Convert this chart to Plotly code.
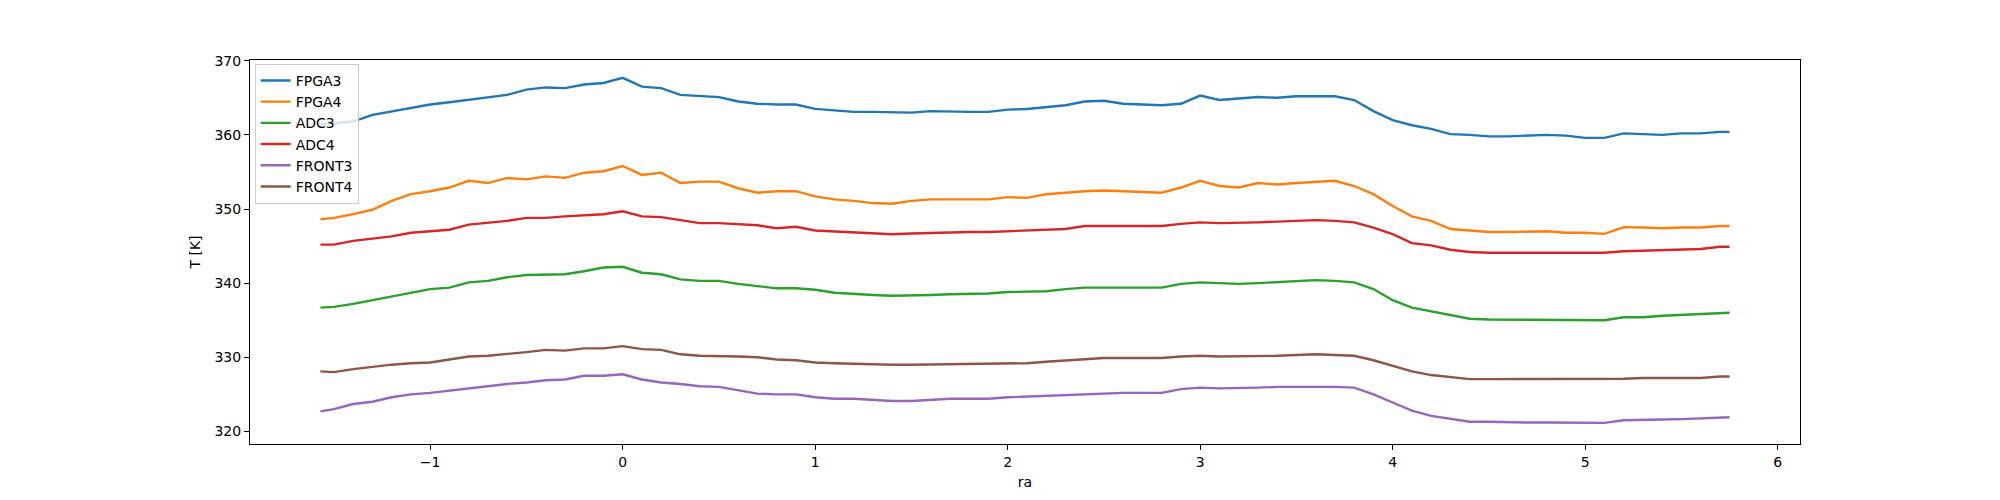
import plotly.graph_objects as go

ra = [-1.57, -1.5, -1.4, -1.3, -1.2, -1.1, -1.0, -0.9, -0.8, -0.7, -0.6, -0.5, -0.4, -0.3, -0.2, -0.1, 0.0, 0.1, 0.2,
      0.3, 0.4, 0.5, 0.6, 0.7, 0.8, 0.9, 1.0, 1.1, 1.2, 1.3, 1.4, 1.5, 1.6, 1.7, 1.8, 1.9, 2.0, 2.1, 2.2, 2.3,
      2.4, 2.5, 2.6, 2.7, 2.8, 2.9, 3.0, 3.1, 3.2, 3.3, 3.4, 3.5, 3.6, 3.7, 3.8, 3.9, 4.0, 4.1, 4.2, 4.3,
      4.4, 4.5, 4.6, 4.7, 4.8, 4.9, 5.0, 5.1, 5.2, 5.3, 5.4, 5.5, 5.6, 5.7, 5.75]

fpga3 = [361.4, 361.6, 361.8, 362.7, 363.2, 363.6, 364.1, 364.4, 364.7, 365.0, 365.4, 366.1, 366.4, 366.3, 366.8, 367.0, 367.7, 366.5, 366.3,
         365.4, 365.2, 365.1, 364.5, 364.2, 364.1, 364.1, 363.5, 363.3, 363.1, 363.1, 363.0, 363.0, 363.2, 363.1, 363.1, 363.1, 363.4, 363.5, 363.7, 364.0,
         364.5, 364.6, 364.2, 364.1, 364.0, 364.2, 365.3, 364.7, 364.9, 365.1, 365.0, 365.2, 365.2, 365.2, 364.7, 363.2, 362.0, 361.3, 360.8, 360.1,
         360.0, 359.8, 359.8, 359.9, 360.0, 359.9, 359.6, 359.6, 360.2, 360.1, 360.0, 360.2, 360.2, 360.4, 360.4]

fpga4 = [348.6, 348.8, 349.3, 349.9, 351.1, 352.0, 352.4, 352.9, 353.8, 353.5, 354.2, 354.0, 354.4, 354.2, 354.9, 355.1, 355.8, 354.6, 354.9,
         353.5, 353.7, 353.7, 352.8, 352.2, 352.4, 352.4, 351.7, 351.3, 351.1, 350.8, 350.7, 351.1, 351.3, 351.3, 351.3, 351.3, 351.6, 351.5, 352.0, 352.2,
         352.4, 352.5, 352.4, 352.3, 352.2, 352.9, 353.8, 353.1, 352.9, 353.5, 353.3, 353.5, 353.7, 353.8, 353.1, 352.0, 350.4, 349.0, 348.4, 347.3,
         347.1, 346.9, 346.9, 347.0, 347.0, 346.8, 346.8, 346.65, 347.55, 347.5, 347.4, 347.5, 347.5, 347.7, 347.7]

adc3 = [336.7, 336.8, 337.2, 337.7, 338.3, 338.8, 339.2, 339.4, 340.1, 340.3, 340.8, 341.1, 341.2, 341.2, 341.6, 342.1, 342.2, 341.4, 341.2,
        340.5, 340.3, 340.3, 339.9, 339.6, 339.3, 339.3, 339.1, 338.7, 338.5, 338.4, 338.3, 338.3, 338.4, 338.5, 338.5, 338.6, 338.8, 338.8, 338.9, 339.2,
        339.4, 339.4, 339.4, 339.4, 339.4, 339.9, 340.1, 340.0, 339.9, 340.0, 340.1, 340.2, 340.4, 340.3, 340.1, 339.2, 337.7, 336.7, 336.2, 335.6,
        335.2, 335.1, 335.1, 335.1, 335.1, 335.0, 335.0, 335.0, 335.4, 335.4, 335.6, 335.7, 335.8, 336.0, 336.0]

adc4 = [345.2, 345.2, 345.7, 346.0, 346.3, 346.8, 347.0, 347.2, 347.9, 348.1, 348.4, 348.8, 348.8, 349.0, 349.2, 349.3, 349.7, 349.0, 348.9,
        348.45, 348.1, 348.1, 347.9, 347.8, 347.4, 347.6, 347.1, 347.0, 346.9, 346.7, 346.6, 346.7, 346.8, 346.9, 346.9, 346.9, 347.0, 347.1, 347.1, 347.3,
        347.7, 347.7, 347.6, 347.6, 347.7, 348.0, 348.2, 348.1, 348.1, 348.2, 348.3, 348.4, 348.5, 348.4, 348.2, 347.5, 346.6, 345.4, 345.1, 344.5,
        344.2, 344.1, 344.1, 344.1, 344.0, 344.0, 344.1, 344.1, 344.3, 344.4, 344.4, 344.6, 344.6, 344.9, 344.9]

front3 = [322.7, 323.0, 323.7, 324.0, 324.6, 325.0, 325.2, 325.5, 325.9, 326.1, 326.4, 326.6, 326.9, 327.0, 327.5, 327.5, 327.7, 327.0, 326.6,
          326.4, 326.1, 326.0, 325.6, 325.1, 325.0, 325.0, 324.6, 324.4, 324.4, 324.2, 324.1, 324.1, 324.3, 324.4, 324.4, 324.4, 324.6, 324.7, 324.8, 325.0,
          325.1, 325.2, 325.2, 325.2, 325.2, 325.7, 325.9, 325.8, 325.8, 325.9, 326.0, 326.0, 326.1, 326.0, 325.9, 325.0, 323.9, 322.8, 322.1, 321.7,
          321.3, 321.3, 321.2, 321.2, 321.2, 321.15, 321.1, 321.15, 321.5, 321.6, 321.6, 321.65, 321.75, 321.9, 321.9]

front4 = [328.1, 328.0, 328.4, 328.7, 329.0, 329.2, 329.3, 329.7, 330.1, 330.2, 330.4, 330.7, 331.0, 330.9, 331.2, 331.2, 331.5, 331.1, 331.0,
          330.4, 330.2, 330.2, 330.1, 330.0, 329.7, 329.6, 329.3, 329.2, 329.1, 329.1, 329.0, 329.0, 329.05, 329.1, 329.1, 329.1, 329.2, 329.2, 329.4, 329.6,
          329.8, 329.9, 329.9, 329.9, 329.9, 330.1, 330.2, 330.1, 330.1, 330.2, 330.2, 330.3, 330.4, 330.3, 330.2, 329.6, 328.8, 328.1, 327.6, 327.3,
          327.05, 327.05, 327.05, 327.05, 327.0, 327.0, 327.0, 327.0, 327.1, 327.2, 327.2, 327.2, 327.2, 327.4, 327.4]

series = [("FPGA3", fpga3, "#1f77b4"), ("FPGA4", fpga4, "#ff7f0e"), ("ADC3", adc3, "#2ca02c"),
          ("ADC4", adc4, "#d62728"), ("FRONT3", front3, "#9467bd"), ("FRONT4", front4, "#8c564b")]

x_ticks = [-1, 0, 1, 2, 3, 4, 5, 6]
y_ticks = [320, 330, 340, 350, 360, 370]

fig = go.Figure()
for name, vals, color in series:
    fig.add_trace(go.Scatter(x=ra, y=vals, mode="lines", name=name,
                             line=dict(color=color, width=2.4)))

font = dict(family="DejaVu Sans", size=14, color="black")
axis_common = dict(showgrid=False, zeroline=False, showline=True, linecolor="black", linewidth=1,
                   mirror=True, ticks="outside", ticklen=5, tickwidth=1, tickcolor="black",
                   tickfont=font, automargin=False)

# page body has an 8px margin, so the figure is offset by 8px
fig.update_layout(
    width=1992, height=492,
    margin=dict(l=242, r=200, t=52, b=56),
    paper_bgcolor="white", plot_bgcolor="white",
    font=font,
    showlegend=True,
    legend=dict(x=0.003, y=0.99, xanchor="left", yanchor="top",
                bgcolor="rgba(255,255,255,0.8)", bordercolor="#cccccc", borderwidth=1,
                font=dict(family="DejaVu Sans", size=14), itemwidth=30, tracegroupgap=0),
    xaxis=dict(range=[-1.936, 6.116], tickvals=x_ticks,
               ticktext=["\u22121", "0", "1", "2", "3", "4", "5", "6"],
               title=dict(text="ra", font=font, standoff=8), **axis_common),
    yaxis=dict(range=[318.3, 370.1], tickvals=y_ticks,
               title=dict(text="T [K]", font=font, standoff=10), **axis_common),
)

fig.write_html("out.html")
